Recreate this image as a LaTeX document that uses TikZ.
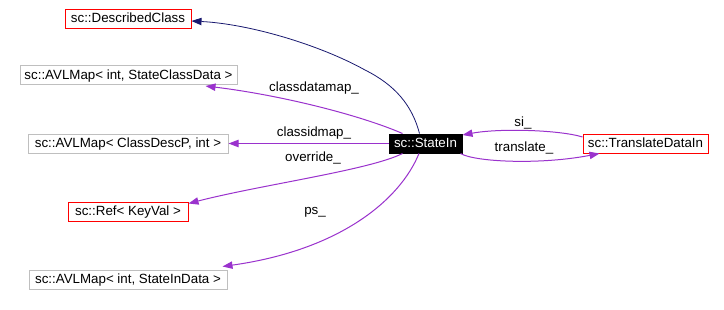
\documentclass[tikz,border=0pt]{standalone}
\usepackage{fontspec}
\setmainfont{Liberation Sans}
\usetikzlibrary{arrows.meta,calc}
\definecolor{usecol}{HTML}{9A32CD}
\definecolor{inhcol}{HTML}{191970}
\definecolor{boxgray}{HTML}{BFBFBF}
\tikzset{
  cls/.style={draw=#1, line width=0.75pt, fill=white, inner sep=0pt, minimum height=14.25pt, font=\fontsize{10pt}{12pt}\selectfont, text height=7.2pt, text depth=1.9pt},
  cur/.style={cls=black, fill=black, text=white},
  lbl/.style={inner sep=0pt, font=\fontsize{10pt}{12pt}\selectfont, text height=7.2pt, text depth=1.9pt},
  use/.style={draw=usecol, line width=0.75pt, -{Triangle[length=7.5pt,width=5.5pt]}},
  inh/.style={draw=inhcol, line width=0.6pt, -{Triangle[length=7.5pt,width=5.5pt]}},
}
\begin{document}
\begin{tikzpicture}[x=0.75pt,y=-0.75pt]
\useasboundingbox[fill=white] (0,0) rectangle (724,310);
\node[cls=red, minimum width=94.5pt] (dc) at (128,19) {sc::DescribedClass};
\node[cls=boxgray, minimum width=162.75pt] (av1) at (128.5,75.5) {sc::AVLMap< int, StateClassData >};
\node[cls=boxgray, minimum width=150pt] (av2) at (128,143.5) {sc::AVLMap< ClassDescP, int >};
\node[cls=red, minimum width=90pt] (ref) at (128,211.5) {sc::Ref< KeyVal >};
\node[cls=boxgray, minimum width=148.5pt] (av3) at (128,279.5) {sc::AVLMap< int, StateInData >};
\node[cur, minimum width=54.75pt] (stin) at (425.5,143.5) {sc::StateIn};
\node[cls=red, minimum width=93.75pt] (tdi) at (645.5,143.5) {sc::TranslateDataIn};

\draw[inh] ($(stin.north)+(-6,0)$) .. controls (412,105) and (395,85) .. (365,70)
  .. controls (320,45) and (250,24) .. ($(dc.east)+(0,2)$);
\draw[use] ($(stin.north west)+(14,0)$) .. controls (360,115) and (280,95) .. ($(av1.south east)+(-32,0.5)$);
\draw[use] (stin.west) -- (av2.east);
\draw[use] ($(stin.south west)+(14,0)$) .. controls (370,170) and (260,185) .. ($(ref.north east)+(0,2)$);
\draw[use] ($(stin.south)+(-6.5,0)$) .. controls (400,200) and (340,250) .. ($(av3.north east)+(-5,-3)$);
\draw[use] ($(tdi.west)+(0,-6.5)$) .. controls (560,130) and (500,128) .. ($(stin.east)+(0,-8.5)$);
\draw[use] ($(stin.south east)+(-2,0)$) .. controls (475,162) and (540,165) .. ($(tdi.south west)+(17,0)$);

\node[lbl] (l1) at (314,88) {classdatamap\_};
\node[lbl] (l2) at (314,133) {classidmap\_};
\node[lbl] (l3) at (313,158) {override\_};
\node[lbl] (l4) at (315,211) {ps\_};
\node[lbl] (l5) at (523,123) {si\_};
\node[lbl] (l6) at (524,148) {translate\_};
\end{tikzpicture}
\end{document}
